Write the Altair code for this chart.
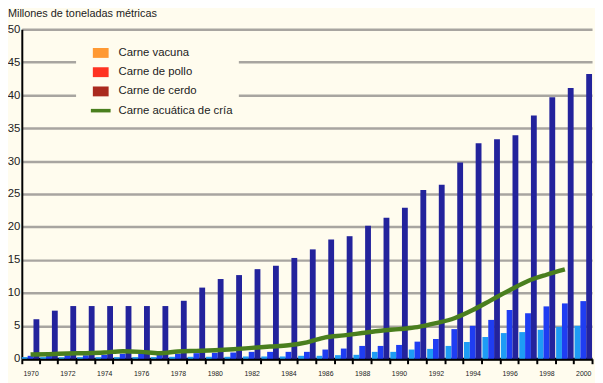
import altair as alt
import pandas as pd

years = list(range(1970, 2001))

# Light blue bars (Carne vacuna)
vacuna = [0.25, 0.25, 0.25, 0.25, 0.25, 0.25, 0.25, 0.25, 0.3, 0.3,
          0.3, 0.3, 0.35, 0.35, 0.35, 0.45, 0.45, 0.55, 0.6, 1.05,
          1.05, 1.4, 1.5, 1.95, 2.55, 3.3, 3.9, 4.05, 4.4, 4.85, 5.0]
# Medium blue bars (Carne de pollo)
pollo = [0.45, 0.5, 0.55, 0.55, 0.6, 0.75, 0.8, 0.7, 0.75, 0.85,
         0.9, 0.95, 1.05, 1.05, 1.05, 1.05, 1.4, 1.55, 1.95, 1.95,
         2.1, 2.6, 3.0, 4.5, 5.0, 5.9, 7.4, 6.9, 7.95, 8.4, 8.75]
# Dark blue bars (Carne de cerdo)
cerdo = [6.0, 7.3, 8.0, 8.0, 8.0, 8.0, 8.0, 8.0, 8.8, 10.8,
         12.1, 12.7, 13.6, 14.1, 15.3, 16.6, 18.1, 18.6, 20.2, 21.4,
         22.9, 25.6, 26.4, 29.8, 32.7, 33.3, 33.9, 36.9, 39.7, 41.1, 43.2]
# Green line (Carne acuática de cría), 1970-1999
acuatica_years = list(range(1970, 2000))
acuatica = [0.65, 0.7, 0.8, 0.85, 0.95, 1.15, 1.05, 0.85, 1.1, 1.2,
            1.3, 1.45, 1.65, 1.85, 2.05, 2.5, 3.25, 3.55, 3.9, 4.25,
            4.5, 4.8, 5.4, 6.15, 7.4, 8.9, 10.4, 11.8, 12.75, 13.55]
y_ticks = list(range(0, 51, 5))

series_names = ["Carne vacuna", "Carne de pollo", "Carne de cerdo"]
bar_colors = ["#1E9CF5", "#1F3DF2", "#23239C"]
legend_names = ["Carne vacuna", "Carne de pollo", "Carne de cerdo", "Carne acuática de cría"]
legend_colors = ["#FF9933", "#FF3322", "#AA2A1E", "#4A7F1E"]
line_color = "#4A7F1E"
bg = "#FFFCEE"

rows = []
for name, vals in zip(series_names, [vacuna, pollo, cerdo]):
    for y, v in zip(years, vals):
        rows.append({"year": y, "serie": name, "value": v})
bars_df = pd.DataFrame(rows)
line_df = pd.DataFrame({"year": acuatica_years, "value": acuatica})
leg_df = pd.DataFrame({"leyenda": legend_names})

font = "Liberation Sans"

x_axis = alt.Axis(
    title=None,
    tickBand="extent",
    labelExpr="datum.value % 2 == 0 ? datum.label : ''",
    labelAngle=0,
    labelFont="Liberation Sans Narrow, Liberation Sans",
    labelFontSize=7,
    labelColor="#222222",
    labelPadding=6,
    tickColor="#000000",
    tickWidth=2,
    tickSize=5,
    domainColor="#000000",
    domainWidth=3,
    grid=False,
)
x_scale = alt.Scale(domain=years, paddingInner=0.05, paddingOuter=0)
y_scale = alt.Scale(domain=[0, 50], nice=False)
y_axis = alt.Axis(
    title=None,
    values=y_ticks,
    labelOverlap=False,
    grid=True,
    gridColor="#A8A5A0",
    gridWidth=2.5,
    ticks=False,
    labelFont=font,
    labelFontSize=11.5,
    labelColor="#222222",
    labelPadding=2,
    domainColor="#000000",
    domainWidth=2,
)

bars = alt.Chart(bars_df).mark_bar().encode(
    x=alt.X("year:O", scale=x_scale, axis=x_axis),
    xOffset=alt.XOffset("serie:N", scale=alt.Scale(domain=series_names, paddingInner=0, paddingOuter=0)),
    y=alt.Y("value:Q", scale=y_scale, axis=y_axis),
    color=alt.Color("serie:N", scale=alt.Scale(domain=series_names, range=bar_colors), legend=None),
)

line = alt.Chart(line_df).mark_line(color=line_color, strokeWidth=4.5, interpolate="monotone").encode(
    x=alt.X("year:O", scale=x_scale, axis=x_axis),
    y=alt.Y("value:Q", scale=y_scale, axis=y_axis),
)

sq = "M-0.8,-0.5L0.8,-0.5L0.8,0.5L-0.8,0.5Z"
ln = "M-1,-0.18L1,-0.18L1,0.18L-1,0.18Z"
leg_props = dict(
    title=None,
    orient="none",
    legendX=55,
    legendY=8,
    fillColor=bg,
    padding=6,
    symbolSize=400,
    symbolOffset=9,
    symbolOpacity=1,
    symbolStrokeWidth=0,
    labelOffset=8,
    labelFont=font,
    labelFontSize=11.5,
    labelColor="#222222",
    rowPadding=3.5,
)
legend_layer = alt.Chart(leg_df).mark_point(filled=True, opacity=0).encode(
    color=alt.Color("leyenda:N", scale=alt.Scale(domain=legend_names, range=legend_colors),
                    legend=alt.Legend(**leg_props)),
    shape=alt.Shape("leyenda:N", scale=alt.Scale(domain=legend_names, range=[sq, sq, sq, ln]),
                    legend=alt.Legend(**leg_props)),
)

chart = alt.layer(bars, line, legend_layer).resolve_scale(
    color="independent", shape="independent"
).properties(
    width=578,
    height=334,
    padding={"left": 14, "top": 19, "right": 3, "bottom": 22},
    autosize=alt.AutoSizeParams(type="none"),
    background=bg,
    title=alt.TitleParams(
        "Millones de toneladas métricas",
        anchor="start",
        frame="group",
        dx=-14,
        offset=4,
        font=font,
        fontSize=11,
        fontWeight="normal",
        color="#222222",
    ),
).configure_view(stroke=None, fill=bg)

chart.save("out.html", embed_options={"renderer": "svg", "actions": False})
